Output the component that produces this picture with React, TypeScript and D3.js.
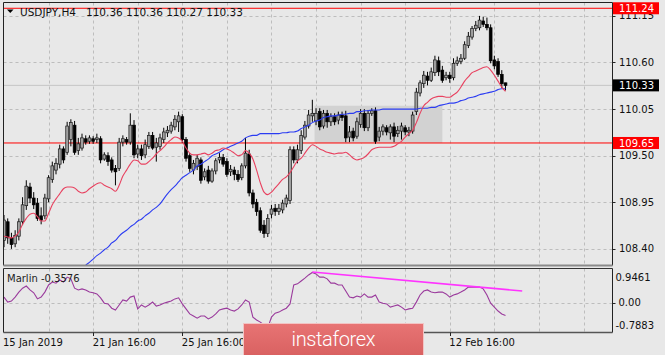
import React from 'react';
import * as d3 from 'd3';

// ---- price data (USDJPY H4) ----
const opens = [108.50,108.72,108.53,108.46,108.55,108.72,108.91,109.13,109.00,108.94,108.79,108.79,108.99,109.22,109.33,109.40,109.58,109.54,109.69,109.86,109.56,109.59,109.70,109.67,109.70,109.69,109.70,109.46,109.50,109.45,109.35,109.35,109.66,109.69,109.66,109.86,109.52,109.58,109.51,109.61,109.74,109.60,109.61,109.69,109.77,109.79,109.84,109.90,109.96,109.69,109.50,109.33,109.37,109.45,109.25,109.33,109.20,109.32,109.45,109.48,109.43,109.31,109.33,109.28,109.24,109.38,109.52,109.06,108.95,108.85,108.68,108.58,108.81,108.88,108.84,108.86,108.93,108.97,109.57,109.45,109.56,109.72,109.85,109.97,109.91,110.02,109.85,110.00,109.90,109.96,109.92,109.98,109.97,109.72,109.79,109.73,109.87,110.00,109.83,110.00,110.03,109.72,109.79,109.83,109.77,109.84,109.76,109.79,109.83,109.78,109.79,110.02,110.24,110.35,110.44,110.39,110.48,110.62,110.51,110.42,110.45,110.42,110.59,110.61,110.65,110.80,110.90,111.00,111.01,111.09,111.05,111.01,110.63,110.61,110.46,110.36];
const highs = [108.80,108.76,108.59,108.62,108.76,109.01,109.21,109.18,109.07,109.00,108.89,109.05,109.27,109.43,109.47,109.63,109.61,109.90,109.93,109.91,109.71,109.76,109.74,109.74,109.73,109.76,109.73,109.54,109.54,109.48,109.39,109.71,109.74,109.72,110.00,109.92,109.63,109.63,109.69,109.78,109.78,109.71,109.76,109.83,109.85,109.90,109.98,110.02,109.99,109.72,109.53,109.45,109.51,109.48,109.35,109.38,109.35,109.47,109.53,109.52,109.47,109.39,109.37,109.33,109.41,109.71,109.57,109.10,108.99,108.89,108.74,108.81,108.92,108.93,108.93,108.98,109.04,109.61,109.61,109.63,109.80,109.91,110.04,110.16,110.06,110.06,110.04,110.04,110.00,110.00,110.02,110.02,110.03,109.85,109.83,109.95,110.05,110.05,110.04,110.06,110.07,109.84,109.87,109.86,109.87,109.89,109.85,109.89,109.86,109.84,110.02,110.30,110.39,110.50,110.49,110.54,110.68,110.67,110.56,110.49,110.49,110.65,110.67,110.70,110.85,110.96,111.03,111.09,111.15,111.14,111.13,111.05,110.68,110.65,110.51,110.36];
const lows = [108.42,108.46,108.40,108.42,108.50,108.68,108.86,108.94,108.87,108.73,108.69,108.75,108.95,109.18,109.28,109.35,109.41,109.51,109.61,109.51,109.51,109.56,109.63,109.64,109.64,109.65,109.41,109.44,109.38,109.30,109.15,109.32,109.61,109.63,109.63,109.47,109.47,109.45,109.47,109.58,109.57,109.43,109.57,109.65,109.72,109.76,109.80,109.78,109.65,109.43,109.31,109.28,109.33,109.17,109.21,109.17,109.18,109.28,109.41,109.37,109.25,109.26,109.21,109.19,109.21,109.35,109.02,108.88,108.79,108.59,108.53,108.54,108.76,108.79,108.80,108.82,108.89,108.93,109.41,109.41,109.52,109.69,109.82,109.90,109.86,109.80,109.82,109.83,109.85,109.86,109.87,109.91,109.66,109.66,109.67,109.70,109.83,109.79,109.79,109.97,109.64,109.67,109.74,109.74,109.69,109.66,109.72,109.69,109.74,109.73,109.76,109.98,110.20,110.30,110.33,110.37,110.44,110.44,110.36,110.39,110.36,110.39,110.56,110.58,110.63,110.77,110.87,110.97,110.98,111.02,110.98,110.59,110.52,110.43,110.30,110.27];
const closes = [108.74,108.53,108.45,108.56,108.72,108.92,109.14,109.00,108.92,108.76,108.74,109.00,109.24,109.38,109.41,109.58,109.45,109.85,109.89,109.54,109.64,109.71,109.66,109.71,109.67,109.71,109.45,109.51,109.43,109.33,109.31,109.66,109.70,109.66,109.86,109.51,109.58,109.50,109.63,109.74,109.59,109.65,109.71,109.78,109.80,109.86,109.93,109.97,109.69,109.47,109.35,109.41,109.47,109.21,109.31,109.20,109.32,109.44,109.48,109.40,109.28,109.34,109.28,109.22,109.38,109.53,109.06,108.93,108.84,108.62,108.58,108.76,108.87,108.84,108.88,108.94,109.00,109.57,109.45,109.57,109.74,109.86,109.98,110.00,110.00,109.84,110.00,109.90,109.96,109.90,109.98,109.95,109.71,109.78,109.71,109.90,110.00,109.83,110.00,110.03,109.67,109.79,109.84,109.78,109.84,109.73,109.80,109.85,109.78,109.80,109.98,110.25,110.36,110.45,110.39,110.49,110.63,110.49,110.39,110.45,110.41,110.59,110.62,110.65,110.81,110.91,111.00,111.04,111.10,111.05,111.01,110.62,110.56,110.46,110.35,110.33];

// ---- moving averages ----
const maFast = [108.55,108.54,108.53,108.55,108.60,108.69,108.76,108.81,108.82,108.78,108.73,108.73,108.82,108.92,108.99,109.05,109.11,109.13,109.13,109.12,109.08,109.06,109.07,109.11,109.14,109.17,109.18,109.15,109.13,109.11,109.08,109.15,109.26,109.33,109.40,109.45,109.44,109.40,109.40,109.43,109.47,109.52,109.56,109.60,109.65,109.69,109.72,109.71,109.67,109.59,109.53,109.51,109.51,109.52,109.53,109.51,109.53,109.56,109.57,109.59,109.58,109.56,109.53,109.50,109.51,109.56,109.53,109.46,109.33,109.18,109.07,109.04,109.07,109.12,109.17,109.22,109.25,109.30,109.37,109.44,109.47,109.53,109.59,109.63,109.61,109.58,109.56,109.54,109.53,109.52,109.53,109.53,109.54,109.51,109.47,109.45,109.46,109.48,109.52,109.57,109.59,109.60,109.60,109.60,109.60,109.61,109.64,109.67,109.72,109.76,109.80,109.89,110.00,110.09,110.13,110.17,110.19,110.20,110.20,110.19,110.19,110.22,110.25,110.31,110.38,110.43,110.48,110.50,110.52,110.54,110.55,110.51,110.45,110.38,110.31,110.26];
const maSlow = [null,null,null,null,null,null,null,null,null,null,null,null,null,null,null,null,null,null,null,null,null,null,108.21,108.24,108.28,108.32,108.35,108.39,108.42,108.47,108.50,108.55,108.59,108.62,108.66,108.69,108.73,108.75,108.79,108.82,108.86,108.89,108.93,108.99,109.05,109.10,109.14,109.19,109.24,109.27,109.30,109.33,109.38,109.40,109.43,109.46,109.50,109.52,109.54,109.57,109.59,109.61,109.63,109.65,109.67,109.71,109.73,109.74,109.74,109.76,109.76,109.76,109.76,109.76,109.76,109.77,109.77,109.78,109.78,109.79,109.82,109.84,109.86,109.89,109.91,109.92,109.95,109.96,109.97,109.97,109.98,109.99,109.99,110.00,110.00,110.02,110.02,110.03,110.03,110.04,110.04,110.04,110.05,110.05,110.05,110.05,110.05,110.05,110.05,110.05,110.05,110.05,110.06,110.06,110.06,110.07,110.07,110.09,110.10,110.11,110.12,110.12,110.13,110.15,110.16,110.18,110.19,110.20,110.22,110.23,110.24,110.25,110.26,110.28,110.29,110.29];

// ---- Marlin oscillator ----
const marlin = [0.16,0.02,0.05,0.16,0.30,0.41,0.47,0.36,0.28,0.11,0.16,0.30,0.50,0.58,0.55,0.64,0.58,0.72,0.67,0.41,0.36,0.39,0.36,0.30,0.28,0.25,0.14,-0.01,-0.03,-0.15,-0.20,-0.06,0.08,0.05,0.16,0.19,-0.17,-0.06,-0.12,-0.06,0.02,-0.09,-0.06,-0.01,0.02,0.05,0.11,0.14,-0.03,-0.17,-0.31,-0.37,-0.43,-0.37,-0.37,-0.45,-0.40,-0.31,-0.20,-0.17,-0.15,-0.20,-0.23,-0.17,-0.06,0.08,0.02,-0.40,-0.48,-0.54,-0.62,-0.70,-0.40,-0.29,-0.26,-0.20,-0.15,-0.03,0.50,0.53,0.61,0.69,0.78,0.85,0.81,0.72,0.72,0.67,0.55,0.55,0.50,0.50,0.33,0.16,0.14,0.19,0.16,0.25,0.16,0.16,0.22,0.02,-0.01,-0.03,-0.12,-0.09,-0.06,-0.12,-0.20,-0.17,-0.15,0.02,0.22,0.33,0.36,0.30,0.28,0.30,0.30,0.25,0.16,0.22,0.25,0.30,0.36,0.44,0.44,0.44,0.44,0.39,0.22,-0.01,-0.12,-0.23,-0.31,-0.3576];

// ---- axis / annotation values ----
const priceTicks = [111.15, 110.60, 110.05, 109.50, 108.95, 108.40];
const indTicks = [0.9461, 0.0, -0.7883];
const gridBars = [12, 24, 36, 48, 60, 72, 84, 96, 108, 120, 132, 144, 156];
const timeLabelBars = [0, 24, 48, 120];
const timeLabels = ['15 Jan 2019', '21 Jan 16:00', '25 Jan 16:00', '12 Feb 16:00'];
const redLevels = [111.24, 109.65];
const lastPrice = 110.33;
const boxBars = [83.6, 118];
const boxPrices = [110.09, 109.65];
const trendBars = [83, 139.5];
const trendValues = [0.86, 0.33];
const header = { symbol: 'USDJPY,H4', ohlc: '110.36 110.36 110.27 110.33' };
const marlinLabel = 'Marlin -0.3576';

const FONT = "'DejaVu Sans', Verdana, sans-serif";

export default function App() {
  const W = 665, H = 355;
  const L = 3.5, R = 612.5, T = 2.5, B = 265.5;
  const iT = 268.5, iB = 332.5;
  const x = d3.scaleLinear().domain([0, 135]).range([4, 505.5]);
  const y = d3.scaleLinear().domain([108.198, 111.314]).range([266, 2]);
  const yi = d3.scaleLinear().domain([-0.7883, 0.9461]).range([331, 269]);

  const fastPath = d3.line<number>().x((_, i) => x(i)).y(d => y(d)).curve(d3.curveMonotoneX)(maFast) || '';
  const slowPath = d3.line<number | null>().defined(d => d != null).x((_, i) => x(i)).y(d => y(d as number)).curve(d3.curveMonotoneX)(maSlow) || '';
  const marlinPath = d3.line<number>().x((_, i) => x(i)).y(d => yi(d))(marlin) || '';

  const grid = '#bdbdbd';
  const bg = '#e8e8e8';

  return (
    <svg width={W} height={H} style={{ position: 'absolute', left: 0, top: 0, background: bg }} fontFamily={FONT}>
      <defs>
        <clipPath id="mainClip"><rect x={L} y={T} width={R - L} height={B - T} /></clipPath>
        <clipPath id="indClip"><rect x={L} y={iT} width={R - L} height={iB - iT} /></clipPath>
        <linearGradient id="wm" x1="0" y1="0" x2="0" y2="1">
          <stop offset="0" stopColor="#e87474" />
          <stop offset="1" stopColor="#d86060" />
        </linearGradient>
      </defs>
      <rect x={0} y={0} width={W} height={H} fill={bg} />

      {/* main grid */}
      <g stroke={grid} strokeDasharray="3,3" strokeWidth={1}>
        {priceTicks.map(p => (
          <line key={'h' + p} x1={L} x2={R} y1={Math.round(y(p)) + 0.5} y2={Math.round(y(p)) + 0.5} />
        ))}
        {gridBars.map(b => (
          <line key={'v' + b} x1={Math.round(x(b)) + 0.5} x2={Math.round(x(b)) + 0.5} y1={T} y2={B} />
        ))}
        {gridBars.map(b => (
          <line key={'vi' + b} x1={Math.round(x(b)) + 0.5} x2={Math.round(x(b)) + 0.5} y1={iT} y2={iB} />
        ))}
        <line x1={L} x2={R} y1={Math.round(yi(0)) + 0.5} y2={Math.round(yi(0)) + 0.5} />
      </g>

      <g clipPath="url(#mainClip)">
        {/* consolidation box */}
        <rect x={x(boxBars[0])} y={y(boxPrices[0])} width={x(boxBars[1]) - x(boxBars[0])}
          height={y(boxPrices[1]) - y(boxPrices[0])} fill="#d2d2d2" />
        {/* last price line */}
        <line x1={L} x2={R} y1={y(lastPrice)} y2={y(lastPrice)} stroke="#c6c6c6" strokeWidth={1} />
        {/* red levels */}
        {redLevels.map(v => (
          <line key={'lv' + v} x1={L} x2={R} y1={y(v)} y2={y(v)} stroke="#ff0000" strokeWidth={1} />
        ))}
        {/* candles */}
        {opens.map((o, i) => {
          const c = closes[i], h = highs[i], l = lows[i];
          const cx = x(i);
          const top = y(Math.max(o, c));
          const bot = y(Math.min(o, c));
          const bull = c >= o;
          return (
            <g key={'c' + i}>
              <line x1={cx} x2={cx} y1={y(h)} y2={y(l)} stroke="#000" strokeWidth={1} />
              <rect x={cx - 1.4} y={top} width={2.8} height={Math.max(1, bot - top)}
                fill={bull ? '#a0a0a0' : '#000'} stroke={bull ? '#1a1a1a' : '#000'} strokeWidth={0.7} />
            </g>
          );
        })}
        <path d={slowPath} fill="none" stroke="#2b3cf2" strokeWidth={1.1} />
        <path d={fastPath} fill="none" stroke="#e8415f" strokeWidth={1.1} />
      </g>

      {/* indicator */}
      <g clipPath="url(#indClip)">
        <path d={marlinPath} fill="none" stroke="#9a3a9c" strokeWidth={1.1} />
        <line x1={x(trendBars[0])} x2={x(trendBars[1])} y1={yi(trendValues[0])} y2={yi(trendValues[1])}
          stroke="#ff33ff" strokeWidth={1.6} />
      </g>

      {/* frames */}
      <line x1={L} x2={L} y1={T} y2={B} stroke="#222" />
      <line x1={R} x2={R} y1={T} y2={B} stroke="#222" />
      <line x1={L} x2={R} y1={T} y2={T} stroke="#222" />
      <line x1={L} x2={R} y1={B} y2={B} stroke="#8a8a8a" strokeWidth={2} />
      <line x1={L} x2={L} y1={iT} y2={iB} stroke="#222" />
      <line x1={R} x2={R} y1={iT} y2={iB} stroke="#222" />
      <line x1={L} x2={R} y1={iT} y2={iT} stroke="#333" />
      <line x1={L} x2={R} y1={iB} y2={iB} stroke="#555" strokeWidth={1.5} />

      {/* price axis */}
      <g fontSize={10} fill="#111">
        {priceTicks.map(p => (
          <g key={'pt' + p}>
            <line x1={R} x2={R + 3} y1={Math.round(y(p)) + 0.5} y2={Math.round(y(p)) + 0.5} stroke="#222" />
            <text x={R + 6.5} y={y(p) + 3.6}>{p.toFixed(2)}</text>
          </g>
        ))}
        {redLevels.map(v => (
          <g key={'rl' + v}>
            <rect x={R + 0.5} y={y(v) - 6} width={46} height={12} fill="#ff0000" />
            <text x={R + 6.5} y={y(v) + 3.6} fill="#fff">{v.toFixed(2)}</text>
          </g>
        ))}
        <rect x={R + 0.5} y={y(lastPrice) - 6} width={46} height={12} fill="#000" />
        <text x={R + 6.5} y={y(lastPrice) + 3.6} fill="#fff">{lastPrice.toFixed(2)}</text>

        {/* indicator axis */}
        <line x1={R} x2={R + 3} y1={Math.round(yi(0)) + 0.5} y2={Math.round(yi(0)) + 0.5} stroke="#222" />
        <text x={R + 3} y={yi(indTicks[0]) + 12}>{indTicks[0].toFixed(4)}</text>
        <text x={R + 6} y={yi(indTicks[1]) + 3.6}>{indTicks[1].toFixed(2)}</text>
        <text x={R + 3} y={yi(indTicks[2]) - 2}>{indTicks[2].toFixed(4)}</text>
      </g>

      {/* time axis */}
      <g fontSize={10} fill="#111">
        {timeLabelBars.map((b, k) => (
          <g key={'tl' + b}>
            {k > 0 && <line x1={Math.round(x(b)) + 0.5} x2={Math.round(x(b)) + 0.5} y1={iB} y2={iB + 3.5} stroke="#222" />}
            <text x={k === 0 ? 3 : x(b) - 0.5} y={346}>{timeLabels[k]}</text>
          </g>
        ))}
      </g>

      {/* header */}
      <path d="M7,9.5 L13.5,9.5 L10.25,13 Z" fill="#000" />
      <text x={20} y={16} fontSize={10.5} fill="#111">{header.symbol}</text>
      <text x={86} y={16} fontSize={10.5} fill="#111">{header.ohlc}</text>
      <text x={7} y={282} fontSize={10} fill="#222">{marlinLabel}</text>

      {/* watermark */}
      <rect x={243.5} y={323.5} width={180} height={34} fill="url(#wm)" stroke="#f2c4c4" strokeWidth={1} />
      <text x={333.5} y={346} fontSize={20} fill="#fff" fontFamily="Roboto, 'Open Sans', sans-serif" fontWeight={300}
        textAnchor="middle" textLength={84}>instaforex</text>
    </svg>
  );
}
